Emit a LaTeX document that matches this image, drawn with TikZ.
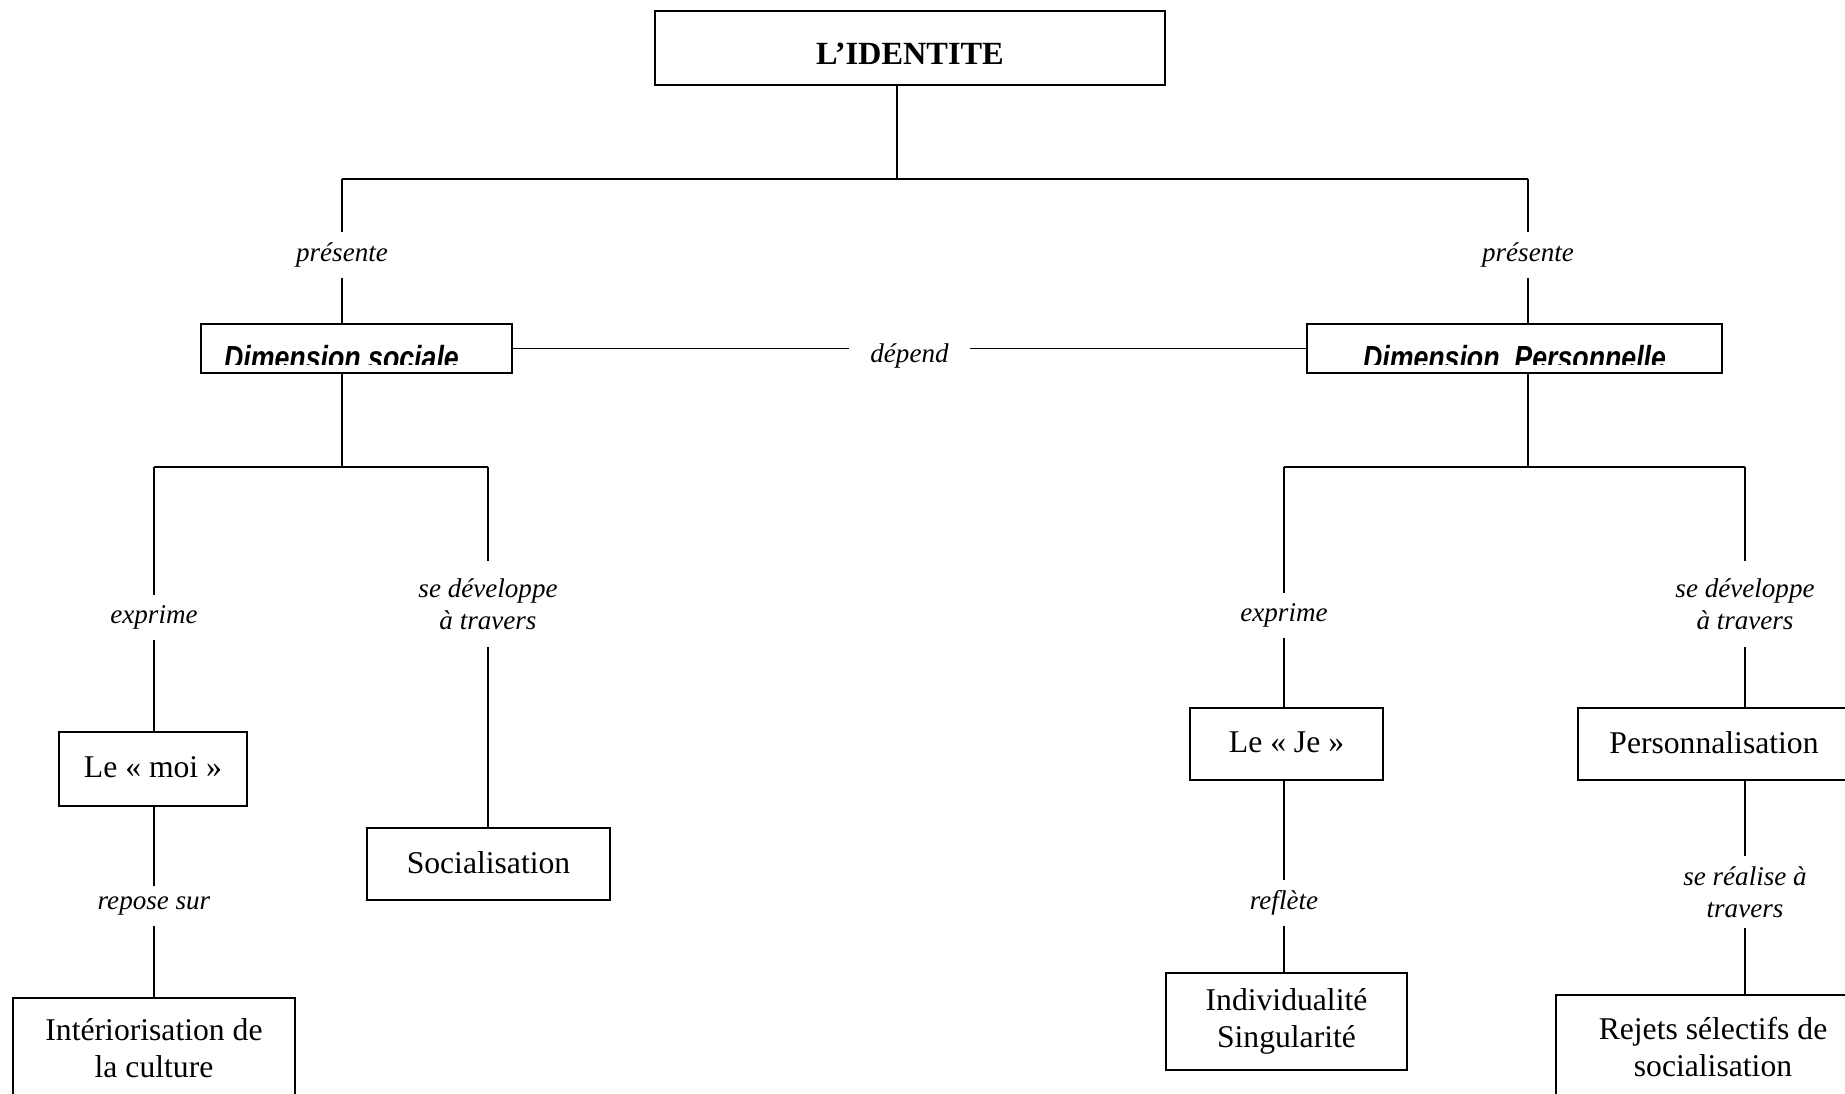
\documentclass[tikz,border=0pt]{standalone}
\usepackage{fontspec}
\setmainfont{Liberation Serif}
\newfontfamily\dimfont[FakeStretch=0.8]{Liberation Sans}

\begin{document}
\begin{tikzpicture}[x=0.01cm,y=-0.01cm,line width=0.5pt,
  box/.style={draw,line width=0.6pt,inner sep=0pt,align=center,font=\fontsize{9}{10.7}\selectfont},
  lab/.style={fill=white,inner xsep=4pt,inner ysep=3pt,align=center,font=\fontsize{7.7}{9.1}\selectfont\itshape},
  dimtext/.style={inner sep=0pt,font=\dimfont\bfseries\itshape\fontsize{9.5}{11}\selectfont}]

\useasboundingbox (0,0) rectangle (1845,1093);
\clip (0,0) rectangle (1845,1093);

\node[box,minimum width=5.10cm,minimum height=0.74cm,text height=0.33cm,text depth=0pt,font=\fontsize{9.2}{11}\selectfont\bfseries] (id) at (910,48) {L'IDENTITE};

\node[box,minimum width=3.11cm,minimum height=0.49cm] (soc) at (356.5,348.5) {};
\node[box,minimum width=4.15cm,minimum height=0.49cm] (per) at (1514.5,348.5) {};
\begin{scope}
\clip (soc.north west) rectangle ([yshift=0.10cm]soc.south east);
\node[dimtext,anchor=base] (soct) at ([xshift=-0.15cm,yshift=0.05cm]soc.south) {Dimension sociale};
\end{scope}
\begin{scope}
\clip (per.north west) rectangle ([yshift=0.10cm]per.south east);
\node[dimtext,anchor=base] (pert) at ([yshift=0.05cm]per.south) {Dimension\ \ Personnelle};
\end{scope}

\node[box,minimum width=1.88cm,minimum height=0.74cm] (moi) at (153,769) {\raisebox{0.035cm}{Le « moi »}};
\node[box,minimum width=2.82cm,minimum height=1.00cm] (int) at (154,1048) {Intériorisation de\\la culture};
\node[box,minimum width=2.43cm,minimum height=0.72cm] (socl) at (488.5,864) {\raisebox{0.035cm}{Socialisation}};
\node[box,minimum width=1.93cm,minimum height=0.72cm] (je) at (1286.5,744) {\raisebox{0.035cm}{Le « Je »}};
\node[box,minimum width=2.41cm,minimum height=0.97cm] (ind) at (1286.5,1021.5) {Individualité\\Singularité};
\node[box,minimum width=2.72cm,minimum height=0.72cm] (pers) at (1714,744) {\raisebox{0.035cm}{Personnalisation}};
\node[box,minimum width=3.14cm,minimum height=1.04cm] (rej) at (1713,1047) {Rejets sélectifs de\\socialisation};

\coordinate (top) at (897,179);
\coordinate (ja) at (342,179);
\coordinate (jb) at (1528,179);
\coordinate (sm) at (342,467);
\coordinate (sa) at (154,467);
\coordinate (sb) at (488,467);
\coordinate (pm) at (1528,467);
\coordinate (pa) at (1284,467);
\coordinate (pb) at (1745,467);

\draw (id.south -| top) -- (top);
\draw (ja) -- (jb);
\draw (ja) -- node[lab,pos=0.53] {présente} (soc.north -| ja);
\draw (jb) -- node[lab,pos=0.53] {présente} (per.north -| jb);
\draw (soc) -- node[lab,inner xsep=6pt,yshift=-2pt] {dépend} (per);

\draw (soc.south -| sm) -- (sm);
\draw (sa) -- (sb);
\draw (sa) -- node[lab,pos=0.57] {exprime} (moi.north -| sa);
\draw (sb) -- node[lab,pos=0.38,inner ysep=5pt] {se développe\\à travers} (socl.north -| sb);
\draw (moi.south -| sa) -- node[lab,pos=0.52] {repose sur} (int.north -| sa);

\draw (per.south -| pm) -- (pm);
\draw (pa) -- (pb);
\draw (pa) -- node[lab,pos=0.62] {exprime} (je.north -| pa);
\draw (pb) -- node[lab,pos=0.57,inner ysep=5pt] {se développe\\à travers} (pers.north -| pb);
\draw (je.south -| pa) -- node[lab,pos=0.64] {reflète} (ind.north -| pa);
\draw (pers.south -| pb) -- node[lab,pos=0.52] {se réalise à\\travers} (rej.north -| pb);

\end{tikzpicture}
\end{document}
